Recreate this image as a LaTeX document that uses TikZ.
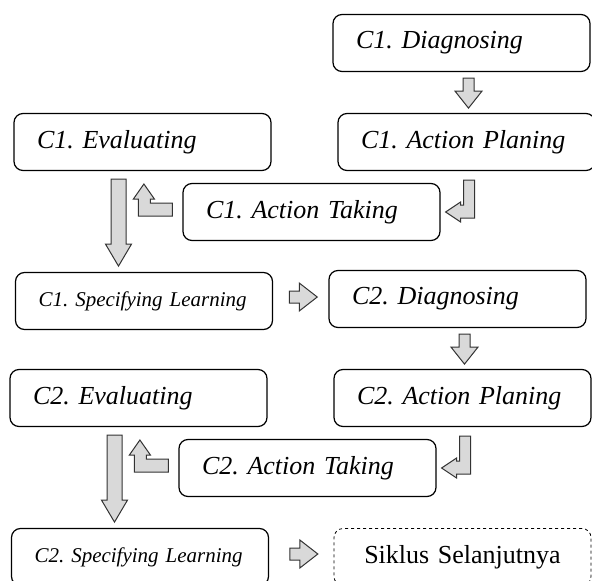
\documentclass[tikz,border=0pt]{standalone}
\usepackage{fontspec}
\setmainfont{Liberation Serif}
\usetikzlibrary{calc}
\frenchspacing

\tikzset{
  tahap/.style={draw, line width=1.2pt, rounded corners=9pt,
    minimum height=57pt, inner xsep=23pt, text width=211pt, align=left,
    font=\itshape\fontsize{26}{30}\selectfont},
  tahapkecil/.style={tahap, font=\itshape\fontsize{21}{25}\selectfont},
  panah/.style={draw=black!80, fill=black!15, line width=1pt},
}

\begin{document}
\begin{tikzpicture}[x=1pt, y=-1pt]
  \useasboundingbox (0,0) rectangle (592,581);
  \clip (0,0) rectangle (592,581);
  % ---- Siklus 1 ----
  \begin{scope}
    \node[tahap] (d1) at (461.5,43) {C1. Diagnosing};
    \node[tahap] (p1) at (466.5,142) {C1. Action Planing};
    \node[tahap] (e1) at (142.5,142) {C1. Evaluating};
    \node[tahap] (t1) at (311.5,212) {C1. Action Taking};
    \node[tahapkecil] (s1) at (144,301) {C1. Specifying Learning};
    % diagnosing -> planing
    \draw[panah] (d1.south) ++(1.5,6) -- ++(0,13) -- ++(-8,0) -- ++(13.5,17)
      -- ++(13.5,-17) -- ++(-8,0) -- ++(0,-13) -- cycle;
    % planing -> taking (belok ke kiri)
    \draw[panah] (t1.east) ++(5,0) -- ++(15,-10) -- ++(0,3) -- ++(3,0)
      -- ++(0,-25) -- ++(11,0) -- ++(0,38) -- ++(-14,0) -- ++(0,4) -- cycle;
    % taking -> evaluating (belok ke atas)
    \draw[panah] (t1.west) ++(-10,-9) -- ++(0,13) -- ++(-34,0) -- ++(0,-17)
      -- ++(-5,0) -- ++(10.5,-15) -- ++(10.5,15) -- ++(-4,0) -- ++(0,4) -- cycle;
    % evaluating -> specifying learning
    \draw[panah] (e1.south) ++(-31.5,8) -- ++(0,65) -- ++(-5.5,0) -- ++(13,22)
      -- ++(13,-22) -- ++(-5.5,0) -- ++(0,-65) -- cycle;
  \end{scope}
  % ---- Siklus 2 ----
  \begin{scope}[shift={(-4,256)}]
    \node[tahap] (d2) at (461.5,43) {C2. Diagnosing};
    \node[tahap] (p2) at (466.5,142) {C2. Action Planing};
    \node[tahap] (e2) at (142.5,142) {C2. Evaluating};
    \node[tahap] (t2) at (311.5,212) {C2. Action Taking};
    \node[tahapkecil] (s2) at (144,301) {C2. Specifying Learning};
    \draw[panah] (d2.south) ++(1.5,6) -- ++(0,13) -- ++(-8,0) -- ++(13.5,17)
      -- ++(13.5,-17) -- ++(-8,0) -- ++(0,-13) -- cycle;
    \draw[panah] (t2.east) ++(5,0) -- ++(15,-10) -- ++(0,3) -- ++(3,0)
      -- ++(0,-25) -- ++(11,0) -- ++(0,38) -- ++(-14,0) -- ++(0,4) -- cycle;
    \draw[panah] (t2.west) ++(-10,-9) -- ++(0,13) -- ++(-34,0) -- ++(0,-17)
      -- ++(-5,0) -- ++(10.5,-15) -- ++(10.5,15) -- ++(-4,0) -- ++(0,4) -- cycle;
    \draw[panah] (e2.south) ++(-31.5,8) -- ++(0,65) -- ++(-5.5,0) -- ++(13,22)
      -- ++(13,-22) -- ++(-5.5,0) -- ++(0,-65) -- cycle;
  \end{scope}
  % siklus berikutnya
  \node[tahap, dashed, line width=0.8pt, align=center,
    font=\fontsize{26}{30}\selectfont] (lanjut) at (462.5,557) {Siklus Selanjutnya};
  % specifying learning -> diagnosing berikutnya
  \draw[panah] ($(s1.east)!0.5!(d2.west)$) ++(-11.5,-9) -- ++(10,0) -- ++(0,-8)
    -- ++(18,14) -- ++(-18,14) -- ++(0,-8) -- ++(-10,0) -- cycle;
  \draw[panah] ($(s2.east)!0.5!(lanjut.west)$) ++(-11.5,-9) -- ++(10,0) -- ++(0,-8)
    -- ++(18,14) -- ++(-18,14) -- ++(0,-8) -- ++(-10,0) -- cycle;
\end{tikzpicture}
\end{document}
